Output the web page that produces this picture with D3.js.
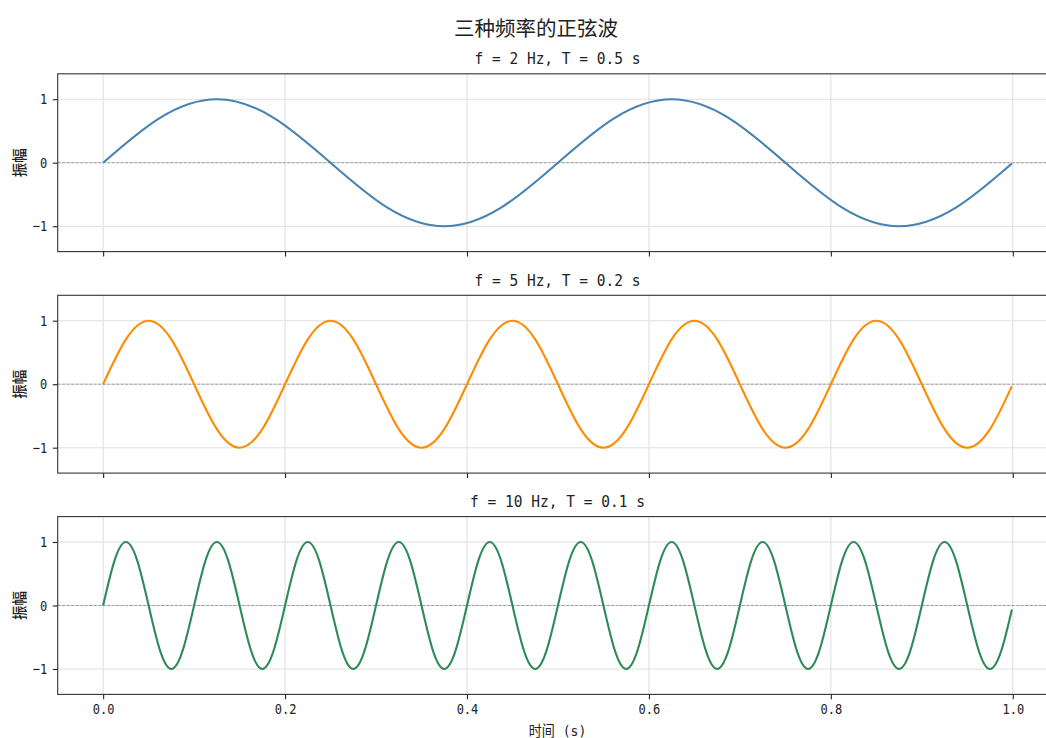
<!DOCTYPE html>
<html>
<head>
<meta charset="utf-8">
<script src="https://cdn.jsdelivr.net/npm/d3@7"></script>
<style>
  html, body { margin: 0; padding: 0; background: #fff; }
  svg { display: block; }
  text { font-family: "DejaVu Sans Mono", "Noto Sans CJK SC", sans-serif; fill: #222; }
  .cjk { font-family: "Noto Sans CJK SC", sans-serif; }
</style>
</head>
<body>
<svg id="chart" width="1046" height="738"></svg>
<script>
// ---------------- data ----------------
const suptitle = "三种频率的正弦波";
const panelTitles = ["f = 2 Hz, T = 0.5 s", "f = 5 Hz, T = 0.2 s", "f = 10 Hz, T = 0.1 s"];
const yLabel = "振幅";
const xLabel = "时间 (s)";
const xTicks = [0.0, 0.2, 0.4, 0.6, 0.8, 1.0];
const xTickLabels = ["0.0", "0.2", "0.4", "0.6", "0.8", "1.0"];
const yTicks = [-1, 0, 1];
const yTickLabels = ["\u22121", "0", "1"];
const colors = ["#4682b4", "#ff8c00", "#2e8b57"];

// sample times (s) and amplitudes at every eighth of a period, plus the last sample
const times2 = [0, 0.0625, 0.125, 0.1875, 0.25, 0.3125, 0.375, 0.4375,
  0.5, 0.5625, 0.625, 0.6875, 0.75, 0.8125, 0.875, 0.9375, 0.999];
const values2 = [0, 0.707, 1, 0.707, 0, -0.707, -1, -0.707,
  0, 0.707, 1, 0.707, 0, -0.707, -1, -0.707, -0.013];

const times5 = [0, 0.025, 0.05, 0.075, 0.1, 0.125, 0.15, 0.175,
  0.2, 0.225, 0.25, 0.275, 0.3, 0.325, 0.35, 0.375,
  0.4, 0.425, 0.45, 0.475, 0.5, 0.525, 0.55, 0.575,
  0.6, 0.625, 0.65, 0.675, 0.7, 0.725, 0.75, 0.775,
  0.8, 0.825, 0.85, 0.875, 0.9, 0.925, 0.95, 0.975, 0.999];
const values5 = [0, 0.707, 1, 0.707, 0, -0.707, -1, -0.707,
  0, 0.707, 1, 0.707, 0, -0.707, -1, -0.707,
  0, 0.707, 1, 0.707, 0, -0.707, -1, -0.707,
  0, 0.707, 1, 0.707, 0, -0.707, -1, -0.707,
  0, 0.707, 1, 0.707, 0, -0.707, -1, -0.707, -0.031];

const times10 = [0, 0.0125, 0.025, 0.0375, 0.05, 0.0625, 0.075, 0.0875,
  0.1, 0.1125, 0.125, 0.1375, 0.15, 0.1625, 0.175, 0.1875,
  0.2, 0.2125, 0.225, 0.2375, 0.25, 0.2625, 0.275, 0.2875,
  0.3, 0.3125, 0.325, 0.3375, 0.35, 0.3625, 0.375, 0.3875,
  0.4, 0.4125, 0.425, 0.4375, 0.45, 0.4625, 0.475, 0.4875,
  0.5, 0.5125, 0.525, 0.5375, 0.55, 0.5625, 0.575, 0.5875,
  0.6, 0.6125, 0.625, 0.6375, 0.65, 0.6625, 0.675, 0.6875,
  0.7, 0.7125, 0.725, 0.7375, 0.75, 0.7625, 0.775, 0.7875,
  0.8, 0.8125, 0.825, 0.8375, 0.85, 0.8625, 0.875, 0.8875,
  0.9, 0.9125, 0.925, 0.9375, 0.95, 0.9625, 0.975, 0.9875, 0.999];
const values10 = [0, 0.707, 1, 0.707, 0, -0.707, -1, -0.707,
  0, 0.707, 1, 0.707, 0, -0.707, -1, -0.707,
  0, 0.707, 1, 0.707, 0, -0.707, -1, -0.707,
  0, 0.707, 1, 0.707, 0, -0.707, -1, -0.707,
  0, 0.707, 1, 0.707, 0, -0.707, -1, -0.707,
  0, 0.707, 1, 0.707, 0, -0.707, -1, -0.707,
  0, 0.707, 1, 0.707, 0, -0.707, -1, -0.707,
  0, 0.707, 1, 0.707, 0, -0.707, -1, -0.707,
  0, 0.707, 1, 0.707, 0, -0.707, -1, -0.707,
  0, 0.707, 1, 0.707, 0, -0.707, -1, -0.707, -0.063];

const seriesTimes = [times2, times5, times10];
const seriesValues = [values2, values5, values10];

// ---------------- layout ----------------
const left = 57.7, right = 1057.3;
const panelTops = [73.8, 295.3, 516.6];
const panelH = 177.8;

const svg = d3.select("#chart");
const x = d3.scaleLinear().domain([-0.04995, 1.04895]).range([left, right]);

// narrow the monospace glyphs a little (tall, narrow look of the original font)
function condense(sel, ratio) {
  sel.each(function () {
    const n = this.getComputedTextLength();
    if (n > 0) {
      d3.select(this).attr("textLength", n * ratio).attr("lengthAdjust", "spacingAndGlyphs");
    }
  });
}

svg.append("text")
  .attr("class", "cjk")
  .attr("x", 536).attr("y", 26.5)
  .attr("text-anchor", "middle").attr("dominant-baseline", "central")
  .style("font-size", "20.5px")
  .text(suptitle);

panelTops.forEach((top, i) => {
  const bottom = top + panelH;
  const y = d3.scaleLinear().domain([-1.4, 1.4]).range([bottom, top]);
  const g = svg.append("g");

  const clipId = "clip" + i;
  svg.append("clipPath").attr("id", clipId)
    .append("rect").attr("x", left).attr("y", top).attr("width", right - left).attr("height", panelH);

  // grid
  g.append("g").selectAll("line").data(xTicks).join("line")
    .attr("x1", d => x(d)).attr("x2", d => x(d))
    .attr("y1", top).attr("y2", bottom)
    .attr("stroke", "#e0e0e0").attr("stroke-width", 1.1);
  g.append("g").selectAll("line").data(yTicks).join("line")
    .attr("x1", left).attr("x2", right)
    .attr("y1", d => y(d)).attr("y2", d => y(d))
    .attr("stroke", "#e0e0e0").attr("stroke-width", 1.1);

  // zero line
  g.append("line")
    .attr("x1", left).attr("x2", right)
    .attr("y1", y(0)).attr("y2", y(0))
    .attr("stroke", "#8a8a8a").attr("stroke-width", 0.8)
    .attr("stroke-dasharray", "3,1.5");

  // series
  const pts = seriesTimes[i].map((t, k) => [t, seriesValues[i][k]]);
  const line = d3.line().x(d => x(d[0])).y(d => y(d[1])).curve(d3.curveNatural);
  g.append("path")
    .attr("clip-path", `url(#${clipId})`)
    .attr("d", line(pts))
    .attr("fill", "none")
    .attr("stroke", colors[i])
    .attr("stroke-width", 2.1)
    .attr("stroke-linejoin", "round")
    .attr("stroke-linecap", "butt");

  // y axis
  const yAxis = d3.axisLeft(y).tickValues(yTicks).tickSize(4.9).tickPadding(5.5)
    .tickFormat((d, k) => yTickLabels[k]);
  const ya = svg.append("g").attr("transform", `translate(${left},0)`).call(yAxis);
  ya.select(".domain").remove();
  ya.selectAll(".tick line").attr("stroke", "#222").attr("stroke-width", 1.1);
  ya.selectAll(".tick text").style("font-size", "14.5px").attr("fill", "#222")
    .style("font-family", "'DejaVu Sans Mono', monospace")
    .call(condense, 0.83);

  // x axis
  const xAxis = d3.axisBottom(x).tickValues(xTicks).tickSize(4.9).tickPadding(4.5)
    .tickFormat((d, k) => i === 2 ? xTickLabels[k] : "");
  const xa = svg.append("g").attr("transform", `translate(0,${bottom})`).call(xAxis);
  xa.select(".domain").remove();
  xa.selectAll(".tick line").attr("stroke", "#222").attr("stroke-width", 1.1);
  xa.selectAll(".tick text").style("font-size", "14.5px").attr("fill", "#222")
    .style("font-family", "'DejaVu Sans Mono', monospace")
    .call(condense, 0.83);

  // spines
  svg.append("rect")
    .attr("x", left).attr("y", top).attr("width", right - left).attr("height", panelH)
    .attr("fill", "none").attr("stroke", "#333").attr("stroke-width", 1.1);

  // panel title
  svg.append("text")
    .attr("x", (left + right) / 2).attr("y", top - 15.3)
    .attr("text-anchor", "middle").attr("dominant-baseline", "central")
    .style("font-size", "16.5px")
    .text(panelTitles[i])
    .call(condense, 0.88);

  // y label
  svg.append("text")
    .attr("class", "cjk")
    .attr("transform", `translate(18,${(top + bottom) / 2}) rotate(-90)`)
    .attr("text-anchor", "middle").attr("dominant-baseline", "central")
    .style("font-size", "14.5px").style("font-weight", 500)
    .text(yLabel);
});

// x label
svg.append("text")
  .attr("x", (left + right) / 2).attr("y", 731)
  .attr("text-anchor", "middle").attr("dominant-baseline", "central")
  .style("font-size", "14.5px")
  .text(xLabel)
  .call(condense, 0.9);
</script>
</body>
</html>
